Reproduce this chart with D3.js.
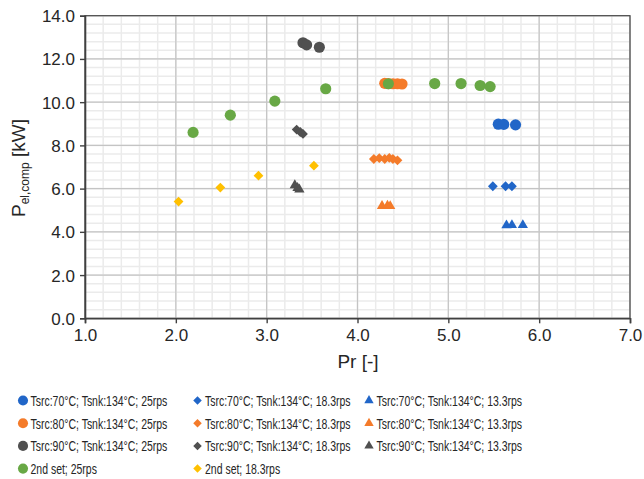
<!DOCTYPE html>
<html>
<head>
<meta charset="utf-8">
<script src="https://cdn.jsdelivr.net/npm/d3@7"></script>
<style>
  body { margin: 0; background: #fff; }
  svg text { font-family: "Liberation Sans", Arial, sans-serif; }
</style>
</head>
<body>
<div id="chart"></div>
<script>
// axis ticks
var xTicks = [1, 2, 3, 4, 5, 6, 7];
var yTicks = [0, 2, 4, 6, 8, 10, 12, 14];

// series data (Pr, Pel,comp)
var blue25X = [5.55, 5.61, 5.74];
var blue25Y = [8.98, 8.97, 8.95];
var orange25X = [4.30, 4.34, 4.39, 4.44, 4.49];
var orange25Y = [10.87, 10.86, 10.85, 10.85, 10.84];
var gray25X = [3.40, 3.44, 3.58];
var gray25Y = [12.75, 12.65, 12.54];
var blue18X = [5.49, 5.63, 5.70];
var blue18Y = [6.11, 6.11, 6.11];
var orange18X = [4.18, 4.24, 4.30, 4.35, 4.39, 4.44];
var orange18Y = [7.37, 7.41, 7.37, 7.42, 7.37, 7.31];
var gray18X = [3.33, 3.37, 3.40];
var gray18Y = [8.73, 8.62, 8.53];
var blue13X = [5.64, 5.70, 5.82];
var blue13Y = [4.30, 4.31, 4.31];
var orange13X = [4.27, 4.33, 4.36];
var orange13Y = [5.20, 5.21, 5.19];
var gray13X = [3.31, 3.34, 3.36];
var gray13Y = [6.16, 6.03, 5.96];
var green25X = [2.19, 2.60, 3.09, 3.65, 4.34, 4.85, 5.14, 5.35, 5.46];
var green25Y = [8.60, 9.40, 10.05, 10.62, 10.85, 10.86, 10.86, 10.77, 10.72];
var yellow18X = [2.03, 2.49, 2.91, 3.52];
var yellow18Y = [5.40, 6.05, 6.60, 7.06];

var labels = [
  "Tsrc:70°C; Tsnk:134°C; 25rps", "Tsrc:70°C; Tsnk:134°C; 18.3rps", "Tsrc:70°C; Tsnk:134°C; 13.3rps",
  "Tsrc:80°C; Tsnk:134°C; 25rps", "Tsrc:80°C; Tsnk:134°C; 18.3rps", "Tsrc:80°C; Tsnk:134°C; 13.3rps",
  "Tsrc:90°C; Tsnk:134°C; 25rps", "Tsrc:90°C; Tsnk:134°C; 18.3rps", "Tsrc:90°C; Tsnk:134°C; 13.3rps",
  "2nd set; 25rps", "2nd set; 18.3rps"
];

var blue = "#2166c8", orange = "#f47b2a", gray = "#505050", green = "#68a845", yellow = "#ffc000";

var series = [
  {x: blue25X, y: blue25Y, c: blue, s: "circle"},
  {x: blue18X, y: blue18Y, c: blue, s: "diamond"},
  {x: blue13X, y: blue13Y, c: blue, s: "triangle"},
  {x: orange25X, y: orange25Y, c: orange, s: "circle"},
  {x: orange18X, y: orange18Y, c: orange, s: "diamond"},
  {x: orange13X, y: orange13Y, c: orange, s: "triangle"},
  {x: gray25X, y: gray25Y, c: gray, s: "circle"},
  {x: gray18X, y: gray18Y, c: gray, s: "diamond"},
  {x: gray13X, y: gray13Y, c: gray, s: "triangle"},
  {x: green25X, y: green25Y, c: green, s: "circle"},
  {x: yellow18X, y: yellow18Y, c: yellow, s: "diamond"}
];
series.forEach(function (d, i) { d.label = labels[i]; });

var W = 644, H = 479;
var svg = d3.select("#chart").append("svg").attr("width", W).attr("height", H);

var x = d3.scaleLinear().domain([1, 7]).range([85, 630]);
var y = d3.scaleLinear().domain([0, 14]).range([318.3, 15.7]);

function symPath(s, big) {
  if (s === "circle") return d3.symbol(d3.symbolCircle, big ? 98 : 80)();
  if (s === "diamond") return d3.symbol(d3.symbolSquare, big ? 48 : 36)();
  return d3.symbol(d3.symbolTriangle, big ? 46 : 38)();
}
function symRot(s) { return s === "diamond" ? " rotate(45)" : ""; }

// minor grid
var g = svg.append("g");
g.selectAll("line.mx").data(d3.range(1, 7.001, 0.2)).enter().append("line")
  .attr("x1", d => x(d)).attr("x2", d => x(d)).attr("y1", y(0)).attr("y2", y(14))
  .attr("stroke", "#ebebeb").attr("stroke-width", 1.5);
g.selectAll("line.my").data(d3.range(0, 14.001, 0.4)).enter().append("line")
  .attr("y1", d => y(d)).attr("y2", d => y(d)).attr("x1", x(1)).attr("x2", x(7))
  .attr("stroke", "#ebebeb").attr("stroke-width", 1.5);

// major grid
g.selectAll("line.gx").data(xTicks).enter().append("line")
  .attr("x1", d => x(d)).attr("x2", d => x(d)).attr("y1", y(0)).attr("y2", y(14))
  .attr("stroke", "#c4c4c4").attr("stroke-width", 1.2);
g.selectAll("line.gy").data(yTicks).enter().append("line")
  .attr("y1", d => y(d)).attr("y2", d => y(d)).attr("x1", x(1)).attr("x2", x(7))
  .attr("stroke", "#c4c4c4").attr("stroke-width", 1.2);

// plot border
svg.append("rect").attr("x", x(1)).attr("y", y(14))
  .attr("width", x(7) - x(1)).attr("height", y(0) - y(14))
  .attr("fill", "none").attr("stroke", "#4a4a4a").attr("stroke-width", 1.2);

// axes
var xAxis = svg.append("g").attr("transform", "translate(0," + y(0) + ")")
  .call(d3.axisBottom(x).tickValues(xTicks).tickFormat(d3.format(".1f")).tickSizeOuter(0).tickSize(5).tickPadding(6));
var yAxis = svg.append("g").attr("transform", "translate(" + x(1) + ",0)")
  .call(d3.axisLeft(y).tickValues(yTicks).tickFormat(d3.format(".1f")).tickSizeOuter(0).tickSize(5).tickPadding(5));
[xAxis, yAxis].forEach(function (a) {
  a.select(".domain").attr("stroke", "#404040").attr("stroke-width", 1.6);
  a.selectAll(".tick line").attr("stroke", "#404040").attr("stroke-width", 1.4);
  a.selectAll("text").attr("font-size", 17).attr("fill", "#262626")
    .attr("font-family", "'Liberation Sans', Arial, sans-serif");
});
yAxis.selectAll("text").attr("dy", "0.35em");

// axis titles
svg.append("text").attr("x", 358).attr("y", 368).attr("text-anchor", "middle")
  .attr("font-size", 19).attr("fill", "#262626").text("Pr [-]");
var yt = svg.append("text").attr("transform", "translate(25,168) rotate(-90)")
  .attr("text-anchor", "middle").attr("font-size", 19).attr("fill", "#262626");
yt.append("tspan").text("P");
yt.append("tspan").attr("font-size", 12).attr("dy", 4).text("el,comp");
yt.append("tspan").attr("dy", -4).text(" [kW]");

// points
series.forEach(function (sr) {
  var pts = sr.x.map(function (v, i) { return [v, sr.y[i]]; });
  svg.append("g").selectAll("path").data(pts).enter().append("path")
    .attr("d", symPath(sr.s, true))
    .attr("transform", d => "translate(" + x(d[0]) + "," + y(d[1]) + ")" + symRot(sr.s))
    .attr("fill", sr.c);
});

// legend (text squeezed horizontally to mimic the narrow legend font)
var colX = [23, 197.5, 369];
var leg = svg.append("g");
var squeeze = null;
series.forEach(function (sr, i) {
  var col = i % 3, row = Math.floor(i / 3);
  if (i >= 9) { col = i - 9; row = 3; }
  var ly = 400.5 + row * 22.7;
  leg.append("path").attr("d", symPath(sr.s, false))
    .attr("transform", "translate(" + colX[col] + "," + ly + ")" + symRot(sr.s))
    .attr("fill", sr.c);
  var t = leg.append("text").attr("dy", "0.36em")
    .attr("font-size", 15.5).attr("fill", "#262626")
    .text(sr.label);
  if (squeeze === null) squeeze = 137 / t.node().getComputedTextLength();
  t.attr("transform", "translate(" + (colX[col] + 7.5) + "," + ly + ") scale(" + squeeze + ",1)");
});
</script>
</body>
</html>
